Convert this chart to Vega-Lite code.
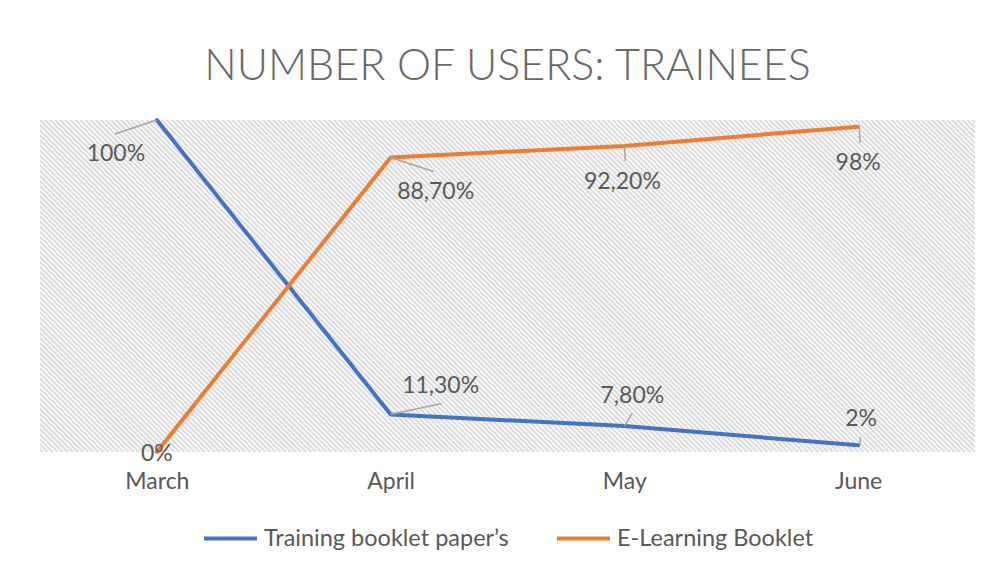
{
  "$schema": "https://vega.github.io/schema/vega-lite/v6.json",
  "autosize": "none",
  "width": 935,
  "height": 332,
  "padding": {"left": 40, "top": 120, "right": 17, "bottom": 113},
  "background": "white",
  "config": {
    "view": {"stroke": null, "fill": {"gradient": "linear", "x1": 0, "y1": 1, "x2": 1.20336, "y2": 0.57271, "stops": [
{"offset":0,"color":"#fff"},{"offset":0.002,"color":"#d4d4d4"},{"offset":0.004,"color":"#fff"},{"offset":0.006,"color":"#d4d4d4"},{"offset":0.008,"color":"#fff"},{"offset":0.01,"color":"#d4d4d4"},{"offset":0.012,"color":"#fff"},{"offset":0.014,"color":"#d4d4d4"},{"offset":0.016,"color":"#fff"},{"offset":0.018,"color":"#d4d4d4"},
{"offset":0.02,"color":"#fff"},{"offset":0.022,"color":"#d4d4d4"},{"offset":0.024,"color":"#fff"},{"offset":0.026,"color":"#d4d4d4"},{"offset":0.028,"color":"#fff"},{"offset":0.03,"color":"#d4d4d4"},{"offset":0.032,"color":"#fff"},{"offset":0.034,"color":"#d4d4d4"},{"offset":0.036,"color":"#fff"},{"offset":0.038,"color":"#d4d4d4"},
{"offset":0.04,"color":"#fff"},{"offset":0.042,"color":"#d4d4d4"},{"offset":0.044,"color":"#fff"},{"offset":0.046,"color":"#d4d4d4"},{"offset":0.048,"color":"#fff"},{"offset":0.05,"color":"#d4d4d4"},{"offset":0.052,"color":"#fff"},{"offset":0.054,"color":"#d4d4d4"},{"offset":0.056,"color":"#fff"},{"offset":0.058,"color":"#d4d4d4"},
{"offset":0.06,"color":"#fff"},{"offset":0.062,"color":"#d4d4d4"},{"offset":0.064,"color":"#fff"},{"offset":0.066,"color":"#d4d4d4"},{"offset":0.068,"color":"#fff"},{"offset":0.07,"color":"#d4d4d4"},{"offset":0.072,"color":"#fff"},{"offset":0.074,"color":"#d4d4d4"},{"offset":0.076,"color":"#fff"},{"offset":0.078,"color":"#d4d4d4"},
{"offset":0.08,"color":"#fff"},{"offset":0.082,"color":"#d4d4d4"},{"offset":0.084,"color":"#fff"},{"offset":0.086,"color":"#d4d4d4"},{"offset":0.088,"color":"#fff"},{"offset":0.09,"color":"#d4d4d4"},{"offset":0.092,"color":"#fff"},{"offset":0.094,"color":"#d4d4d4"},{"offset":0.096,"color":"#fff"},{"offset":0.098,"color":"#d4d4d4"},
{"offset":0.1,"color":"#fff"},{"offset":0.102,"color":"#d4d4d4"},{"offset":0.104,"color":"#fff"},{"offset":0.106,"color":"#d4d4d4"},{"offset":0.108,"color":"#fff"},{"offset":0.11,"color":"#d4d4d4"},{"offset":0.112,"color":"#fff"},{"offset":0.114,"color":"#d4d4d4"},{"offset":0.116,"color":"#fff"},{"offset":0.118,"color":"#d4d4d4"},
{"offset":0.12,"color":"#fff"},{"offset":0.122,"color":"#d4d4d4"},{"offset":0.124,"color":"#fff"},{"offset":0.126,"color":"#d4d4d4"},{"offset":0.128,"color":"#fff"},{"offset":0.13,"color":"#d4d4d4"},{"offset":0.132,"color":"#fff"},{"offset":0.134,"color":"#d4d4d4"},{"offset":0.136,"color":"#fff"},{"offset":0.138,"color":"#d4d4d4"},
{"offset":0.14,"color":"#fff"},{"offset":0.142,"color":"#d4d4d4"},{"offset":0.144,"color":"#fff"},{"offset":0.146,"color":"#d4d4d4"},{"offset":0.148,"color":"#fff"},{"offset":0.15,"color":"#d4d4d4"},{"offset":0.152,"color":"#fff"},{"offset":0.154,"color":"#d4d4d4"},{"offset":0.156,"color":"#fff"},{"offset":0.158,"color":"#d4d4d4"},
{"offset":0.16,"color":"#fff"},{"offset":0.162,"color":"#d4d4d4"},{"offset":0.164,"color":"#fff"},{"offset":0.166,"color":"#d4d4d4"},{"offset":0.168,"color":"#fff"},{"offset":0.17,"color":"#d4d4d4"},{"offset":0.172,"color":"#fff"},{"offset":0.174,"color":"#d4d4d4"},{"offset":0.176,"color":"#fff"},{"offset":0.178,"color":"#d4d4d4"},
{"offset":0.18,"color":"#fff"},{"offset":0.182,"color":"#d4d4d4"},{"offset":0.184,"color":"#fff"},{"offset":0.186,"color":"#d4d4d4"},{"offset":0.188,"color":"#fff"},{"offset":0.19,"color":"#d4d4d4"},{"offset":0.192,"color":"#fff"},{"offset":0.194,"color":"#d4d4d4"},{"offset":0.196,"color":"#fff"},{"offset":0.198,"color":"#d4d4d4"},
{"offset":0.2,"color":"#fff"},{"offset":0.202,"color":"#d4d4d4"},{"offset":0.204,"color":"#fff"},{"offset":0.206,"color":"#d4d4d4"},{"offset":0.208,"color":"#fff"},{"offset":0.21,"color":"#d4d4d4"},{"offset":0.212,"color":"#fff"},{"offset":0.214,"color":"#d4d4d4"},{"offset":0.216,"color":"#fff"},{"offset":0.218,"color":"#d4d4d4"},
{"offset":0.22,"color":"#fff"},{"offset":0.222,"color":"#d4d4d4"},{"offset":0.224,"color":"#fff"},{"offset":0.226,"color":"#d4d4d4"},{"offset":0.228,"color":"#fff"},{"offset":0.23,"color":"#d4d4d4"},{"offset":0.232,"color":"#fff"},{"offset":0.234,"color":"#d4d4d4"},{"offset":0.236,"color":"#fff"},{"offset":0.238,"color":"#d4d4d4"},
{"offset":0.24,"color":"#fff"},{"offset":0.242,"color":"#d4d4d4"},{"offset":0.244,"color":"#fff"},{"offset":0.246,"color":"#d4d4d4"},{"offset":0.248,"color":"#fff"},{"offset":0.25,"color":"#d4d4d4"},{"offset":0.252,"color":"#fff"},{"offset":0.254,"color":"#d4d4d4"},{"offset":0.256,"color":"#fff"},{"offset":0.258,"color":"#d4d4d4"},
{"offset":0.26,"color":"#fff"},{"offset":0.262,"color":"#d4d4d4"},{"offset":0.264,"color":"#fff"},{"offset":0.266,"color":"#d4d4d4"},{"offset":0.268,"color":"#fff"},{"offset":0.27,"color":"#d4d4d4"},{"offset":0.272,"color":"#fff"},{"offset":0.274,"color":"#d4d4d4"},{"offset":0.276,"color":"#fff"},{"offset":0.278,"color":"#d4d4d4"},
{"offset":0.28,"color":"#fff"},{"offset":0.282,"color":"#d4d4d4"},{"offset":0.284,"color":"#fff"},{"offset":0.286,"color":"#d4d4d4"},{"offset":0.288,"color":"#fff"},{"offset":0.29,"color":"#d4d4d4"},{"offset":0.292,"color":"#fff"},{"offset":0.294,"color":"#d4d4d4"},{"offset":0.296,"color":"#fff"},{"offset":0.298,"color":"#d4d4d4"},
{"offset":0.3,"color":"#fff"},{"offset":0.302,"color":"#d4d4d4"},{"offset":0.304,"color":"#fff"},{"offset":0.306,"color":"#d4d4d4"},{"offset":0.308,"color":"#fff"},{"offset":0.31,"color":"#d4d4d4"},{"offset":0.312,"color":"#fff"},{"offset":0.314,"color":"#d4d4d4"},{"offset":0.316,"color":"#fff"},{"offset":0.318,"color":"#d4d4d4"},
{"offset":0.32,"color":"#fff"},{"offset":0.322,"color":"#d4d4d4"},{"offset":0.324,"color":"#fff"},{"offset":0.326,"color":"#d4d4d4"},{"offset":0.328,"color":"#fff"},{"offset":0.33,"color":"#d4d4d4"},{"offset":0.332,"color":"#fff"},{"offset":0.334,"color":"#d4d4d4"},{"offset":0.336,"color":"#fff"},{"offset":0.338,"color":"#d4d4d4"},
{"offset":0.34,"color":"#fff"},{"offset":0.342,"color":"#d4d4d4"},{"offset":0.344,"color":"#fff"},{"offset":0.346,"color":"#d4d4d4"},{"offset":0.348,"color":"#fff"},{"offset":0.35,"color":"#d4d4d4"},{"offset":0.352,"color":"#fff"},{"offset":0.354,"color":"#d4d4d4"},{"offset":0.356,"color":"#fff"},{"offset":0.358,"color":"#d4d4d4"},
{"offset":0.36,"color":"#fff"},{"offset":0.362,"color":"#d4d4d4"},{"offset":0.364,"color":"#fff"},{"offset":0.366,"color":"#d4d4d4"},{"offset":0.368,"color":"#fff"},{"offset":0.37,"color":"#d4d4d4"},{"offset":0.372,"color":"#fff"},{"offset":0.374,"color":"#d4d4d4"},{"offset":0.376,"color":"#fff"},{"offset":0.378,"color":"#d4d4d4"},
{"offset":0.38,"color":"#fff"},{"offset":0.382,"color":"#d4d4d4"},{"offset":0.384,"color":"#fff"},{"offset":0.386,"color":"#d4d4d4"},{"offset":0.388,"color":"#fff"},{"offset":0.39,"color":"#d4d4d4"},{"offset":0.392,"color":"#fff"},{"offset":0.394,"color":"#d4d4d4"},{"offset":0.396,"color":"#fff"},{"offset":0.398,"color":"#d4d4d4"},
{"offset":0.4,"color":"#fff"},{"offset":0.402,"color":"#d4d4d4"},{"offset":0.404,"color":"#fff"},{"offset":0.406,"color":"#d4d4d4"},{"offset":0.408,"color":"#fff"},{"offset":0.41,"color":"#d4d4d4"},{"offset":0.412,"color":"#fff"},{"offset":0.414,"color":"#d4d4d4"},{"offset":0.416,"color":"#fff"},{"offset":0.418,"color":"#d4d4d4"},
{"offset":0.42,"color":"#fff"},{"offset":0.422,"color":"#d4d4d4"},{"offset":0.424,"color":"#fff"},{"offset":0.426,"color":"#d4d4d4"},{"offset":0.428,"color":"#fff"},{"offset":0.43,"color":"#d4d4d4"},{"offset":0.432,"color":"#fff"},{"offset":0.434,"color":"#d4d4d4"},{"offset":0.436,"color":"#fff"},{"offset":0.438,"color":"#d4d4d4"},
{"offset":0.44,"color":"#fff"},{"offset":0.442,"color":"#d4d4d4"},{"offset":0.444,"color":"#fff"},{"offset":0.446,"color":"#d4d4d4"},{"offset":0.448,"color":"#fff"},{"offset":0.45,"color":"#d4d4d4"},{"offset":0.452,"color":"#fff"},{"offset":0.454,"color":"#d4d4d4"},{"offset":0.456,"color":"#fff"},{"offset":0.458,"color":"#d4d4d4"},
{"offset":0.46,"color":"#fff"},{"offset":0.462,"color":"#d4d4d4"},{"offset":0.464,"color":"#fff"},{"offset":0.466,"color":"#d4d4d4"},{"offset":0.468,"color":"#fff"},{"offset":0.47,"color":"#d4d4d4"},{"offset":0.472,"color":"#fff"},{"offset":0.474,"color":"#d4d4d4"},{"offset":0.476,"color":"#fff"},{"offset":0.478,"color":"#d4d4d4"},
{"offset":0.48,"color":"#fff"},{"offset":0.482,"color":"#d4d4d4"},{"offset":0.484,"color":"#fff"},{"offset":0.486,"color":"#d4d4d4"},{"offset":0.488,"color":"#fff"},{"offset":0.49,"color":"#d4d4d4"},{"offset":0.492,"color":"#fff"},{"offset":0.494,"color":"#d4d4d4"},{"offset":0.496,"color":"#fff"},{"offset":0.498,"color":"#d4d4d4"},
{"offset":0.5,"color":"#fff"},{"offset":0.502,"color":"#d4d4d4"},{"offset":0.504,"color":"#fff"},{"offset":0.506,"color":"#d4d4d4"},{"offset":0.508,"color":"#fff"},{"offset":0.51,"color":"#d4d4d4"},{"offset":0.512,"color":"#fff"},{"offset":0.514,"color":"#d4d4d4"},{"offset":0.516,"color":"#fff"},{"offset":0.518,"color":"#d4d4d4"},
{"offset":0.52,"color":"#fff"},{"offset":0.522,"color":"#d4d4d4"},{"offset":0.524,"color":"#fff"},{"offset":0.526,"color":"#d4d4d4"},{"offset":0.528,"color":"#fff"},{"offset":0.53,"color":"#d4d4d4"},{"offset":0.532,"color":"#fff"},{"offset":0.534,"color":"#d4d4d4"},{"offset":0.536,"color":"#fff"},{"offset":0.538,"color":"#d4d4d4"},
{"offset":0.54,"color":"#fff"},{"offset":0.542,"color":"#d4d4d4"},{"offset":0.544,"color":"#fff"},{"offset":0.546,"color":"#d4d4d4"},{"offset":0.548,"color":"#fff"},{"offset":0.55,"color":"#d4d4d4"},{"offset":0.552,"color":"#fff"},{"offset":0.554,"color":"#d4d4d4"},{"offset":0.556,"color":"#fff"},{"offset":0.558,"color":"#d4d4d4"},
{"offset":0.56,"color":"#fff"},{"offset":0.562,"color":"#d4d4d4"},{"offset":0.564,"color":"#fff"},{"offset":0.566,"color":"#d4d4d4"},{"offset":0.568,"color":"#fff"},{"offset":0.57,"color":"#d4d4d4"},{"offset":0.572,"color":"#fff"},{"offset":0.574,"color":"#d4d4d4"},{"offset":0.576,"color":"#fff"},{"offset":0.578,"color":"#d4d4d4"},
{"offset":0.58,"color":"#fff"},{"offset":0.582,"color":"#d4d4d4"},{"offset":0.584,"color":"#fff"},{"offset":0.586,"color":"#d4d4d4"},{"offset":0.588,"color":"#fff"},{"offset":0.59,"color":"#d4d4d4"},{"offset":0.592,"color":"#fff"},{"offset":0.594,"color":"#d4d4d4"},{"offset":0.596,"color":"#fff"},{"offset":0.598,"color":"#d4d4d4"},
{"offset":0.6,"color":"#fff"},{"offset":0.602,"color":"#d4d4d4"},{"offset":0.604,"color":"#fff"},{"offset":0.606,"color":"#d4d4d4"},{"offset":0.608,"color":"#fff"},{"offset":0.61,"color":"#d4d4d4"},{"offset":0.612,"color":"#fff"},{"offset":0.614,"color":"#d4d4d4"},{"offset":0.616,"color":"#fff"},{"offset":0.618,"color":"#d4d4d4"},
{"offset":0.62,"color":"#fff"},{"offset":0.622,"color":"#d4d4d4"},{"offset":0.624,"color":"#fff"},{"offset":0.626,"color":"#d4d4d4"},{"offset":0.628,"color":"#fff"},{"offset":0.63,"color":"#d4d4d4"},{"offset":0.632,"color":"#fff"},{"offset":0.634,"color":"#d4d4d4"},{"offset":0.636,"color":"#fff"},{"offset":0.638,"color":"#d4d4d4"},
{"offset":0.64,"color":"#fff"},{"offset":0.642,"color":"#d4d4d4"},{"offset":0.644,"color":"#fff"},{"offset":0.646,"color":"#d4d4d4"},{"offset":0.648,"color":"#fff"},{"offset":0.65,"color":"#d4d4d4"},{"offset":0.652,"color":"#fff"},{"offset":0.654,"color":"#d4d4d4"},{"offset":0.656,"color":"#fff"},{"offset":0.658,"color":"#d4d4d4"},
{"offset":0.66,"color":"#fff"},{"offset":0.662,"color":"#d4d4d4"},{"offset":0.664,"color":"#fff"},{"offset":0.666,"color":"#d4d4d4"},{"offset":0.668,"color":"#fff"},{"offset":0.67,"color":"#d4d4d4"},{"offset":0.672,"color":"#fff"},{"offset":0.674,"color":"#d4d4d4"},{"offset":0.676,"color":"#fff"},{"offset":0.678,"color":"#d4d4d4"},
{"offset":0.68,"color":"#fff"},{"offset":0.682,"color":"#d4d4d4"},{"offset":0.684,"color":"#fff"},{"offset":0.686,"color":"#d4d4d4"},{"offset":0.688,"color":"#fff"},{"offset":0.69,"color":"#d4d4d4"},{"offset":0.692,"color":"#fff"},{"offset":0.694,"color":"#d4d4d4"},{"offset":0.696,"color":"#fff"},{"offset":0.698,"color":"#d4d4d4"},
{"offset":0.7,"color":"#fff"},{"offset":0.702,"color":"#d4d4d4"},{"offset":0.704,"color":"#fff"},{"offset":0.706,"color":"#d4d4d4"},{"offset":0.708,"color":"#fff"},{"offset":0.71,"color":"#d4d4d4"},{"offset":0.712,"color":"#fff"},{"offset":0.714,"color":"#d4d4d4"},{"offset":0.716,"color":"#fff"},{"offset":0.718,"color":"#d4d4d4"},
{"offset":0.72,"color":"#fff"},{"offset":0.722,"color":"#d4d4d4"},{"offset":0.724,"color":"#fff"},{"offset":0.726,"color":"#d4d4d4"},{"offset":0.728,"color":"#fff"},{"offset":0.73,"color":"#d4d4d4"},{"offset":0.732,"color":"#fff"},{"offset":0.734,"color":"#d4d4d4"},{"offset":0.736,"color":"#fff"},{"offset":0.738,"color":"#d4d4d4"},
{"offset":0.74,"color":"#fff"},{"offset":0.742,"color":"#d4d4d4"},{"offset":0.744,"color":"#fff"},{"offset":0.746,"color":"#d4d4d4"},{"offset":0.748,"color":"#fff"},{"offset":0.75,"color":"#d4d4d4"},{"offset":0.752,"color":"#fff"},{"offset":0.754,"color":"#d4d4d4"},{"offset":0.756,"color":"#fff"},{"offset":0.758,"color":"#d4d4d4"},
{"offset":0.76,"color":"#fff"},{"offset":0.762,"color":"#d4d4d4"},{"offset":0.764,"color":"#fff"},{"offset":0.766,"color":"#d4d4d4"},{"offset":0.768,"color":"#fff"},{"offset":0.77,"color":"#d4d4d4"},{"offset":0.772,"color":"#fff"},{"offset":0.774,"color":"#d4d4d4"},{"offset":0.776,"color":"#fff"},{"offset":0.778,"color":"#d4d4d4"},
{"offset":0.78,"color":"#fff"},{"offset":0.782,"color":"#d4d4d4"},{"offset":0.784,"color":"#fff"},{"offset":0.786,"color":"#d4d4d4"},{"offset":0.788,"color":"#fff"},{"offset":0.79,"color":"#d4d4d4"},{"offset":0.792,"color":"#fff"},{"offset":0.794,"color":"#d4d4d4"},{"offset":0.796,"color":"#fff"},{"offset":0.798,"color":"#d4d4d4"},
{"offset":0.8,"color":"#fff"},{"offset":0.802,"color":"#d4d4d4"},{"offset":0.804,"color":"#fff"},{"offset":0.806,"color":"#d4d4d4"},{"offset":0.808,"color":"#fff"},{"offset":0.81,"color":"#d4d4d4"},{"offset":0.812,"color":"#fff"},{"offset":0.814,"color":"#d4d4d4"},{"offset":0.816,"color":"#fff"},{"offset":0.818,"color":"#d4d4d4"},
{"offset":0.82,"color":"#fff"},{"offset":0.822,"color":"#d4d4d4"},{"offset":0.824,"color":"#fff"},{"offset":0.826,"color":"#d4d4d4"},{"offset":0.828,"color":"#fff"},{"offset":0.83,"color":"#d4d4d4"},{"offset":0.832,"color":"#fff"},{"offset":0.834,"color":"#d4d4d4"},{"offset":0.836,"color":"#fff"},{"offset":0.838,"color":"#d4d4d4"},
{"offset":0.84,"color":"#fff"},{"offset":0.842,"color":"#d4d4d4"},{"offset":0.844,"color":"#fff"},{"offset":0.846,"color":"#d4d4d4"},{"offset":0.848,"color":"#fff"},{"offset":0.85,"color":"#d4d4d4"},{"offset":0.852,"color":"#fff"},{"offset":0.854,"color":"#d4d4d4"},{"offset":0.856,"color":"#fff"},{"offset":0.858,"color":"#d4d4d4"},
{"offset":0.86,"color":"#fff"},{"offset":0.862,"color":"#d4d4d4"},{"offset":0.864,"color":"#fff"},{"offset":0.866,"color":"#d4d4d4"},{"offset":0.868,"color":"#fff"},{"offset":0.87,"color":"#d4d4d4"},{"offset":0.872,"color":"#fff"},{"offset":0.874,"color":"#d4d4d4"},{"offset":0.876,"color":"#fff"},{"offset":0.878,"color":"#d4d4d4"},
{"offset":0.88,"color":"#fff"},{"offset":0.882,"color":"#d4d4d4"},{"offset":0.884,"color":"#fff"},{"offset":0.886,"color":"#d4d4d4"},{"offset":0.888,"color":"#fff"},{"offset":0.89,"color":"#d4d4d4"},{"offset":0.892,"color":"#fff"},{"offset":0.894,"color":"#d4d4d4"},{"offset":0.896,"color":"#fff"},{"offset":0.898,"color":"#d4d4d4"},
{"offset":0.9,"color":"#fff"},{"offset":0.902,"color":"#d4d4d4"},{"offset":0.904,"color":"#fff"},{"offset":0.906,"color":"#d4d4d4"},{"offset":0.908,"color":"#fff"},{"offset":0.91,"color":"#d4d4d4"},{"offset":0.912,"color":"#fff"},{"offset":0.914,"color":"#d4d4d4"},{"offset":0.916,"color":"#fff"},{"offset":0.918,"color":"#d4d4d4"},
{"offset":0.92,"color":"#fff"},{"offset":0.922,"color":"#d4d4d4"},{"offset":0.924,"color":"#fff"},{"offset":0.926,"color":"#d4d4d4"},{"offset":0.928,"color":"#fff"},{"offset":0.93,"color":"#d4d4d4"},{"offset":0.932,"color":"#fff"},{"offset":0.934,"color":"#d4d4d4"},{"offset":0.936,"color":"#fff"},{"offset":0.938,"color":"#d4d4d4"},
{"offset":0.94,"color":"#fff"},{"offset":0.942,"color":"#d4d4d4"},{"offset":0.944,"color":"#fff"},{"offset":0.946,"color":"#d4d4d4"},{"offset":0.948,"color":"#fff"},{"offset":0.95,"color":"#d4d4d4"},{"offset":0.952,"color":"#fff"},{"offset":0.954,"color":"#d4d4d4"},{"offset":0.956,"color":"#fff"},{"offset":0.958,"color":"#d4d4d4"},
{"offset":0.96,"color":"#fff"},{"offset":0.962,"color":"#d4d4d4"},{"offset":0.964,"color":"#fff"},{"offset":0.966,"color":"#d4d4d4"},{"offset":0.968,"color":"#fff"},{"offset":0.97,"color":"#d4d4d4"},{"offset":0.972,"color":"#fff"},{"offset":0.974,"color":"#d4d4d4"},{"offset":0.976,"color":"#fff"},{"offset":0.978,"color":"#d4d4d4"},
{"offset":0.98,"color":"#fff"},{"offset":0.982,"color":"#d4d4d4"},{"offset":0.984,"color":"#fff"},{"offset":0.986,"color":"#d4d4d4"},{"offset":0.988,"color":"#fff"},{"offset":0.99,"color":"#d4d4d4"},{"offset":0.992,"color":"#fff"},{"offset":0.994,"color":"#d4d4d4"},{"offset":0.996,"color":"#fff"},{"offset":0.998,"color":"#d4d4d4"},
{"offset":1,"color":"#fff"}
    ]}},
    "font": "Lato",
    "text": {"font": "Lato", "fontSize": 23, "fill": "#595959"},
    "legend": {"layout": {"bottom": {"anchor": "middle"}}}
  },
  "title": {
    "text": "NUMBER OF USERS: TRAINEES",
    "font": "Lato",
    "fontSize": 43,
    "fontWeight": 300,
    "color": "#686868",
    "anchor": "middle",
    "baseline": "alphabetic",
    "offset": -5
  },
  "data": {
    "values": [
      {"month": "March", "series": "Training booklet paper’s", "value": 1.0, "label": "100%"},
      {"month": "April", "series": "Training booklet paper’s", "value": 0.113, "label": "11,30%"},
      {"month": "May", "series": "Training booklet paper’s", "value": 0.078, "label": "7,80%"},
      {"month": "June", "series": "Training booklet paper’s", "value": 0.02, "label": "2%"},
      {"month": "March", "series": "E-Learning Booklet", "value": 0.0, "label": "0%"},
      {"month": "April", "series": "E-Learning Booklet", "value": 0.887, "label": "88,70%"},
      {"month": "May", "series": "E-Learning Booklet", "value": 0.922, "label": "92,20%"},
      {"month": "June", "series": "E-Learning Booklet", "value": 0.98, "label": "98%"}
    ]
  },
  "encoding": {
    "x": {
      "field": "month", "type": "nominal", "sort": ["March", "April", "May", "June"],
      "scale": {"type": "point", "padding": 0.5},
      "axis": {"title": null, "domain": false, "ticks": false, "grid": false, "labelAngle": 0,
               "labelFont": "Lato", "labelFontSize": 23, "labelColor": "#595959", "labelPadding": 18}
    },
    "y": {
      "field": "value", "type": "quantitative",
      "scale": {"domain": [0, 1], "nice": false, "zero": true},
      "axis": null
    }
  },
  "layer": [
    {
      "mark": {"type": "line", "strokeWidth": 4, "strokeCap": "round", "strokeJoin": "round"},
      "encoding": {
        "color": {
          "field": "series", "type": "nominal",
          "scale": {"domain": ["Training booklet paper’s", "E-Learning Booklet"], "range": ["#4472C4", "#ED7D31"]},
          "legend": {
            "orient": "bottom", "direction": "horizontal", "title": null,
            "symbolType": "stroke", "symbolSize": 2809, "symbolStrokeWidth": 4,
            "labelFont": "Lato", "labelFontSize": 23.5, "labelColor": "#595959", "labelLimit": 400,
            "labelOffset": 5, "columnPadding": 40, "offset": 17
          }
        }
      }
    },
    {"transform": [{"filter": "datum.label === '100%'"}], "mark": {"type": "rule", "color": "#a6a6a6", "strokeWidth": 1.5, "x2Offset": -42, "y2Offset": 14}, "encoding": {"x2": {"field": "month"}, "y2": {"field": "value"}}},
    {"transform": [{"filter": "datum.label === '11,30%'"}], "mark": {"type": "rule", "color": "#a6a6a6", "strokeWidth": 1.5, "x2Offset": 51, "y2Offset": -11}, "encoding": {"x2": {"field": "month"}, "y2": {"field": "value"}}},
    {"transform": [{"filter": "datum.label === '7,80%'"}], "mark": {"type": "rule", "color": "#a6a6a6", "strokeWidth": 1.5, "x2Offset": 8, "y2Offset": -13}, "encoding": {"x2": {"field": "month"}, "y2": {"field": "value"}}},
    {"transform": [{"filter": "datum.label === '2%'"}], "mark": {"type": "rule", "color": "#a6a6a6", "strokeWidth": 1.5, "xOffset": 2, "x2Offset": 2, "y2Offset": -8}, "encoding": {"x2": {"field": "month"}, "y2": {"field": "value"}}},
    {"transform": [{"filter": "datum.label === '88,70%'"}], "mark": {"type": "rule", "color": "#a6a6a6", "strokeWidth": 1.5, "x2Offset": 43, "y2Offset": 14}, "encoding": {"x2": {"field": "month"}, "y2": {"field": "value"}}},
    {"transform": [{"filter": "datum.label === '92,20%'"}], "mark": {"type": "rule", "color": "#a6a6a6", "strokeWidth": 1.5, "x2Offset": 1, "y2Offset": 15}, "encoding": {"x2": {"field": "month"}, "y2": {"field": "value"}}},
    {"transform": [{"filter": "datum.label === '98%'"}], "mark": {"type": "rule", "color": "#a6a6a6", "strokeWidth": 1.5, "xOffset": 1, "x2Offset": 2, "y2Offset": 16}, "encoding": {"x2": {"field": "month"}, "y2": {"field": "value"}}},
    {"transform": [{"filter": "datum.label === '100%'"}], "mark": {"type": "text", "dx": -41, "dy": 34}, "encoding": {"text": {"field": "label"}}},
    {"transform": [{"filter": "datum.label === '11,30%'"}], "mark": {"type": "text", "dx": 50, "dy": -28}, "encoding": {"text": {"field": "label"}}},
    {"transform": [{"filter": "datum.label === '7,80%'"}], "mark": {"type": "text", "dx": 8, "dy": -30}, "encoding": {"text": {"field": "label"}}},
    {"transform": [{"filter": "datum.label === '2%'"}], "mark": {"type": "text", "dx": 3, "dy": -26}, "encoding": {"text": {"field": "label"}}},
    {"transform": [{"filter": "datum.label === '0%'"}], "mark": {"type": "text", "dx": 0, "dy": 2}, "encoding": {"text": {"field": "label"}}},
    {"transform": [{"filter": "datum.label === '88,70%'"}], "mark": {"type": "text", "dx": 45, "dy": 34}, "encoding": {"text": {"field": "label"}}},
    {"transform": [{"filter": "datum.label === '92,20%'"}], "mark": {"type": "text", "dx": -2, "dy": 36}, "encoding": {"text": {"field": "label"}}},
    {"transform": [{"filter": "datum.label === '98%'"}], "mark": {"type": "text", "dx": 0, "dy": 36}, "encoding": {"text": {"field": "label"}}}
  ]
}
